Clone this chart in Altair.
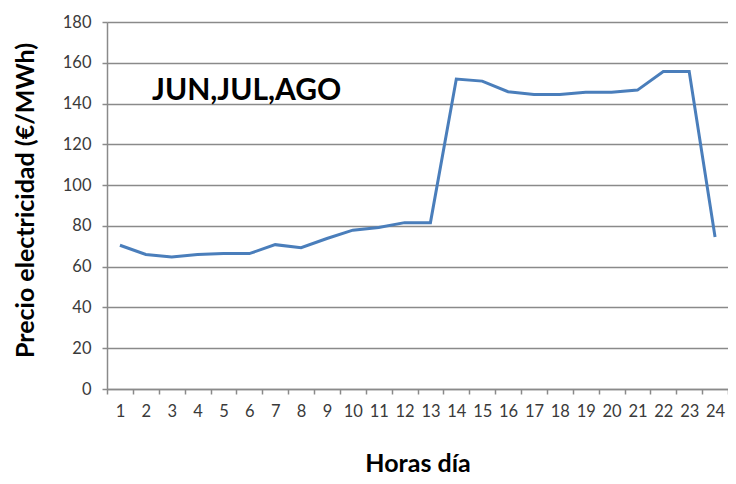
import altair as alt
import pandas as pd

hours = [str(h) for h in range(1, 25)]
prices = [70.5, 66, 64.8, 66, 66.4, 66.4, 70.8, 69.3, 73.8, 77.9, 79.2, 81.6,
          81.6, 152, 151, 145.8, 144.5, 144.5, 145.5, 145.5, 146.6, 155.7, 155.7, 74.5]
y_ticks = list(range(0, 181, 20))
note_text = ["JUN,JUL,AGO"]
note_y = [146]

df = pd.DataFrame({"hora": hours, "precio": prices})
note = pd.DataFrame({"t": note_text, "y": note_y})

FONT = "Lato"
GRID = "#8a8a8a"

x_enc = alt.X("hora:N", sort=hours, title="Horas día",
              scale=alt.Scale(paddingInner=0, paddingOuter=0),
              axis=alt.Axis(labelAngle=0, tickBand="extent", grid=False,
                            domainColor=GRID, tickColor=GRID, tickSize=5,
                            labelPadding=9, labelFont=FONT, labelFontSize=16.5,
                            labelColor="#3a3a3a",
                            titleFont=FONT, titleFontSize=25, titleFontWeight="bold",
                            titleColor="#000000", titleY=82, titleBaseline="alphabetic"))
y_enc = alt.Y("precio:Q", title="Precio electricidad (€/MWh)",
              scale=alt.Scale(domain=[0, 180], nice=False),
              axis=alt.Axis(values=y_ticks, grid=True, gridColor=GRID, gridWidth=1.5,
                            domainColor=GRID, tickColor=GRID, tickSize=5,
                            labelPadding=11, labelFont=FONT, labelFontSize=16.5,
                            labelColor="#3a3a3a",
                            titleFont=FONT, titleFontSize=25, titleFontWeight="bold",
                            titleColor="#000000", titleX=-82, titleY=178,
                            titleBaseline="middle", titleAnchor="middle"))

line = alt.Chart(df).mark_line(color="#4A7EBB", strokeWidth=3).encode(x=x_enc, y=y_enc)

text = alt.Chart(note).mark_text(align="left", baseline="middle", font=FONT,
                                 fontSize=30, fontWeight="bold", color="#000000").encode(
    x=alt.value(45),
    y=alt.Y("y:Q", scale=alt.Scale(domain=[0, 180], nice=False)),
    text="t:N")

chart = alt.layer(line, text).properties(
    width=621, height=367,
    autosize=alt.AutoSizeParams(type="none"),
    padding={"left": 99, "top": 14, "right": 0, "bottom": 87},
).configure_view(stroke=None).configure_axis(domainWidth=1.5, tickWidth=1.5)

chart.save("out.html", embed_options={"renderer": "svg", "actions": False})
